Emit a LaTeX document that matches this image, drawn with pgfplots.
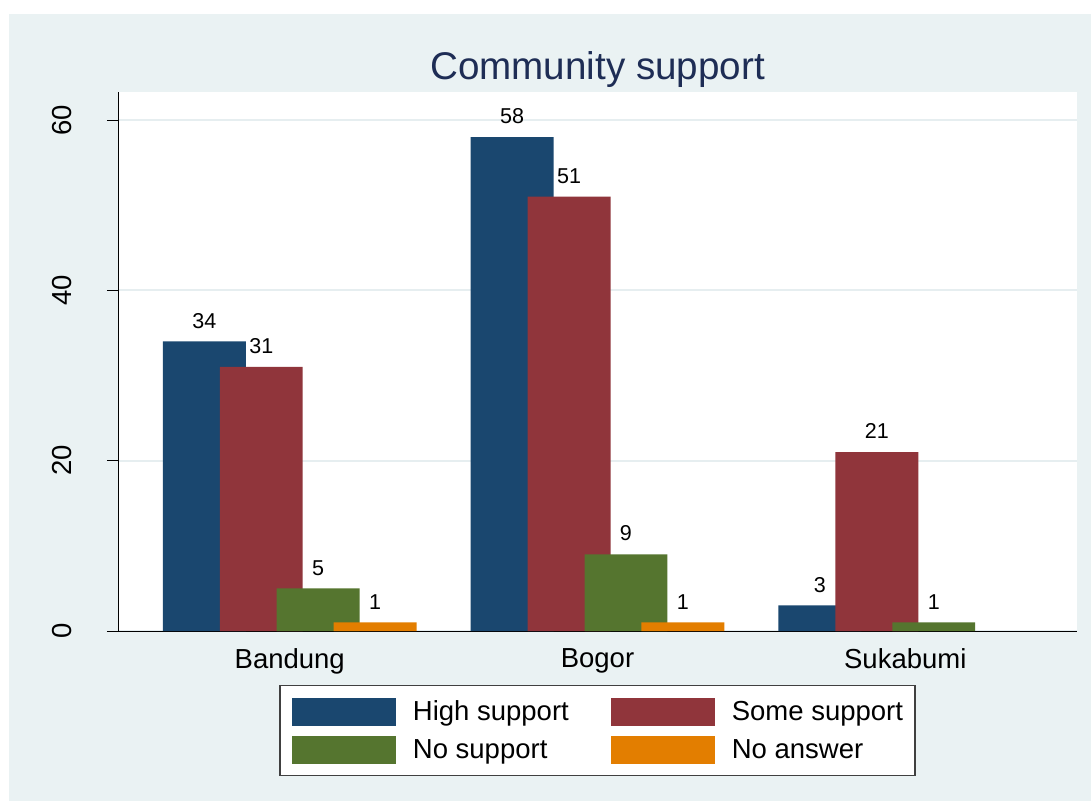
\documentclass[border=0pt]{standalone}
\usepackage{fontspec}
\setmainfont{Liberation Sans}
\usepackage{pgfplots}
\pgfplotsset{compat=1.18}
\definecolor{navyS}{HTML}{1A476F}
\definecolor{maroonS}{HTML}{90353B}
\definecolor{greenS}{HTML}{55752F}
\definecolor{orangeS}{HTML}{E37E00}
\definecolor{bgS}{HTML}{EAF2F3}
\definecolor{gridS}{HTML}{E6EEF0}
\definecolor{titleS}{HTML}{1E2D55}
\begin{document}
\begin{tikzpicture}
\fill[white] (0pt,0pt) rectangle (1091pt,-802pt);
\fill[bgS] (9pt,-14pt) rectangle (1091pt,-801pt);
\fill[white] (118pt,-631pt) rectangle (1077pt,-92pt);
\begin{axis}[
  at={(118pt,-631pt)}, anchor=south west,
  scale only axis, width=959pt, height=539pt,
  xmin=-0.558, xmax=2.558, ymin=0, ymax=63.29,
  ybar, bar width=0.2695,
  axis x line*=bottom, axis y line*=left,
  axis line style={-, black, line width=1pt},
  xtick={0,1,2}, xticklabels={Bandung,Bogor,Sukabumi},
  x tick style={draw=none}, major tick length=11pt,
  ytick={0,20,40,60},
  y tick style={black, line width=1pt},
  tick align=outside,
  ymajorgrids, grid style={gridS, line width=2pt},
  /pgf/number format/assume math mode=true,
  tick label style={font=\fontsize{27.5}{33}\selectfont},
  yticklabel style={xshift=-35pt, rotate=90, anchor=south, inner sep=0pt},
  xticklabel style={anchor=north, inner sep=0pt, yshift=-6pt},
  nodes near coords,
  every node near coord/.append style={font=\fontsize{21.5}{25}\selectfont, black, inner sep=0pt, anchor=south, yshift=13pt},
  legend columns=2,
  legend style={at={(0.5,-0.1002)}, anchor=north, draw=black!75, line width=1.2pt, fill=white,
    inner sep=12pt, font=\fontsize{27.5}{33}\selectfont,
    cells={anchor=west}, nodes={inner sep=0pt},
    /tikz/every odd column/.append style={column sep=17pt},
    /tikz/every even column/.append style={column sep=42pt},
    row sep=10pt},
]
\addplot[fill=navyS, draw=none, bar shift=-0.2776,
  legend image code/.code={\fill[navyS] (0pt,-14pt) rectangle (104pt,14pt);}]
  coordinates {(0,34) (1,58) (2,3)};
\addplot[fill=maroonS, draw=none, bar shift=-0.0925,
  legend image code/.code={\fill[maroonS] (0pt,-14pt) rectangle (104pt,14pt);}]
  coordinates {(0,31) (1,51) (2,21)};
\addplot[fill=greenS, draw=none, bar shift=0.0925,
  legend image code/.code={\fill[greenS] (0pt,-14pt) rectangle (104pt,14pt);}]
  coordinates {(0,5) (1,9) (2,1)};
\addplot[fill=orangeS, draw=none, bar shift=0.2776,
  legend image code/.code={\fill[orangeS] (0pt,-14pt) rectangle (104pt,14pt);}]
  coordinates {(0,1) (1,1)};
\legend{High support, Some support, No support, No answer}
\end{axis}
\node[anchor=base, inner sep=0pt, text=titleS, font=\fontsize{38.6}{46}\selectfont] at (597.5pt,-80pt) {Community support};
\end{tikzpicture}
\end{document}
